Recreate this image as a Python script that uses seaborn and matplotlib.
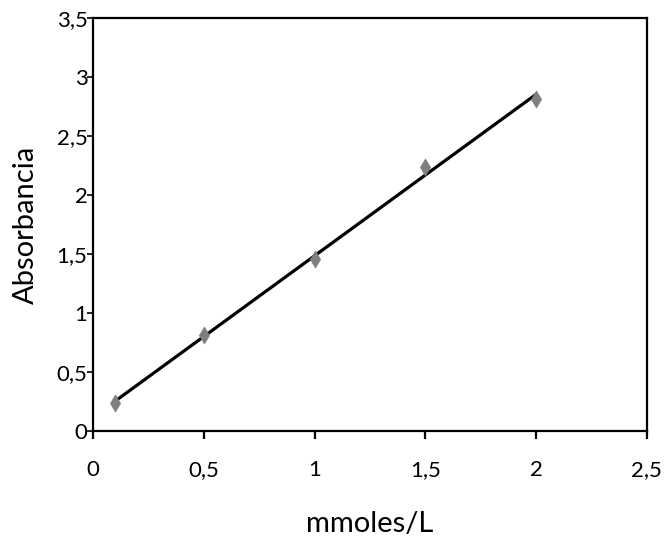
import matplotlib
matplotlib.use("Agg")
import matplotlib.pyplot as plt
import matplotlib.ticker as mticker
import seaborn as sns
import pandas as pd

# ── Data ──────────────────────────────────────────────────
conc = [0.1, 0.5, 1.0, 1.5, 2.0]           # mmoles/L
absorb = [0.24, 0.81, 1.46, 2.24, 2.81]     # Absorbancia
x_ticks = [0, 0.5, 1, 1.5, 2, 2.5]
y_ticks = [0, 0.5, 1, 1.5, 2, 2.5, 3, 3.5]

df = pd.DataFrame({"mmoles/L": conc, "Absorbancia": absorb})

sns.set_theme(style="white")
plt.rcParams["font.family"] = ["Lato", "DejaVu Sans"]

fig = plt.figure(figsize=(6.71, 5.44), dpi=100)
ax = fig.add_axes([0.1386, 0.2077, 0.8254, 0.7593])

# trendline (least squares) + points
sns.regplot(data=df, x="mmoles/L", y="Absorbancia", ci=None, ax=ax,
            scatter=False, truncate=True,
            line_kws=dict(color="black", linewidth=2.3, zorder=2))
sns.scatterplot(data=df, x="mmoles/L", y="Absorbancia", ax=ax,
                marker="d", s=75, color="#7f7f7f", edgecolor="#7f7f7f",
                linewidth=0.5, zorder=3)

ax.set_xlim(0, 2.5)
ax.set_ylim(0, 3.5)
ax.set_xticks(x_ticks)
ax.set_yticks(y_ticks)
fmt = mticker.FuncFormatter(lambda v, _: f"{v:g}".replace(".", ","))
ax.xaxis.set_major_formatter(fmt)
ax.yaxis.set_major_formatter(fmt)

for s in ax.spines.values():
    s.set_visible(True)
    s.set_color("black")
    s.set_linewidth(1.6)

ax.tick_params(axis="x", direction="out", length=6, width=1.6,
               bottom=True, pad=15, labelsize=16, colors="black")
ax.tick_params(axis="y", direction="out", length=4, width=1.2,
               left=True, pad=0, labelsize=16, colors="black")

ax.set_xlabel("mmoles/L", fontsize=21, labelpad=22, color="black")
ax.set_ylabel("Absorbancia", fontsize=21, labelpad=13, color="black")

fig.savefig("out.png", dpi=100, facecolor="white")
